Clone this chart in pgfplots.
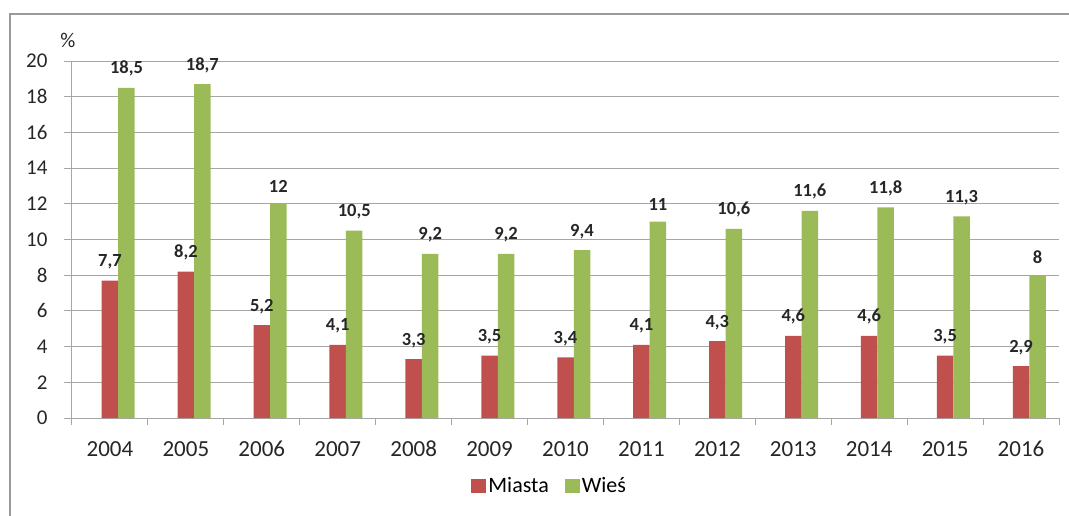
\documentclass[border=0pt]{standalone}
\usepackage{fontspec}
\setmainfont{Carlito}
\usepackage{pgfplots}
\pgfplotsset{compat=1.18}
\definecolor{cred}{HTML}{C0504D}
\definecolor{cgreen}{HTML}{9BBB59}
\definecolor{gridc}{HTML}{A6A6A6}
\begin{document}
\begin{tikzpicture}[x=1pt,y=1pt]
\begin{scope}
\clip (0,0) rectangle (1069,515);
\draw[line width=2.5pt, color=black!40] (10,-20) -- (10,501) -- (1090,501);
\end{scope}
\useasboundingbox (0,0) rectangle (1069,515);
\begin{axis}[
  name=main,
  at={(72pt,97pt)}, anchor=south west,
  scale only axis, width=987pt, height=357pt,
  xmin=-0.5, xmax=12.5, ymin=0, ymax=20,
  ybar=0pt, bar width=16.5pt,
  xtick={0,...,12},
  xticklabels={2004,2005,2006,2007,2008,2009,2010,2011,2012,2013,2014,2015,2016},
  minor xtick={-0.5,0.5,...,12.5},
  major x tick style={draw=none},
  ytick={0,2,...,20},
  ymajorgrids, grid style={gridc, line width=1pt},
  axis line style={gridc, line width=1pt},
  axis x line*=bottom, axis y line*=left,
  tick align=outside,
  tick style={gridc, line width=1pt},
  major tick length=8pt, minor tick length=7pt,
  y tick label style={font=\fontsize{21}{21}\selectfont, text=black!85, xshift=-13pt},
  x tick label style={font=\fontsize{23}{23}\selectfont, text=black!85,
     text height=15pt, text depth=0pt, yshift=-12pt},
  /pgf/number format/use comma,
  /pgf/number format/assume math mode=true,
  nodes near coords,
  nodes near coords style={font=\fontsize{18.5}{18.5}\selectfont\bfseries, text=black!85, yshift=8pt},
  legend style={at={(0.484,-0.19)}, anchor=center, draw=none, fill=none,
    legend columns=2, font=\fontsize{22}{22}\selectfont,
    /tikz/every even column/.append style={column sep=14pt}},
  legend image code/.code={\path[#1] (0pt,-7pt) rectangle (15pt,7pt);},
]
\addplot[fill=cred, draw=none, bar shift=0pt] coordinates {
(0,7.7) (1,8.2) (2,5.2) (3,4.1) (4,3.3) (5,3.5) (6,3.4) (7,4.1) (8,4.3) (9,4.6) (10,4.6) (11,3.5) (12,2.9)};
\addplot[fill=cgreen, draw=none, bar shift=16.5pt] coordinates {
(0,18.5) (1,18.7) (2,12) (3,10.5) (4,9.2) (5,9.2) (6,9.4) (7,11) (8,10.6) (9,11.6) (10,11.8) (11,11.3) (12,8)};
\legend{Miasta, Wieś}
\end{axis}
\node[font=\fontsize{21}{21}\selectfont, text=black!85] at ([xshift=-4pt,yshift=21pt]main.north west) {\%};
\end{tikzpicture}
\end{document}
